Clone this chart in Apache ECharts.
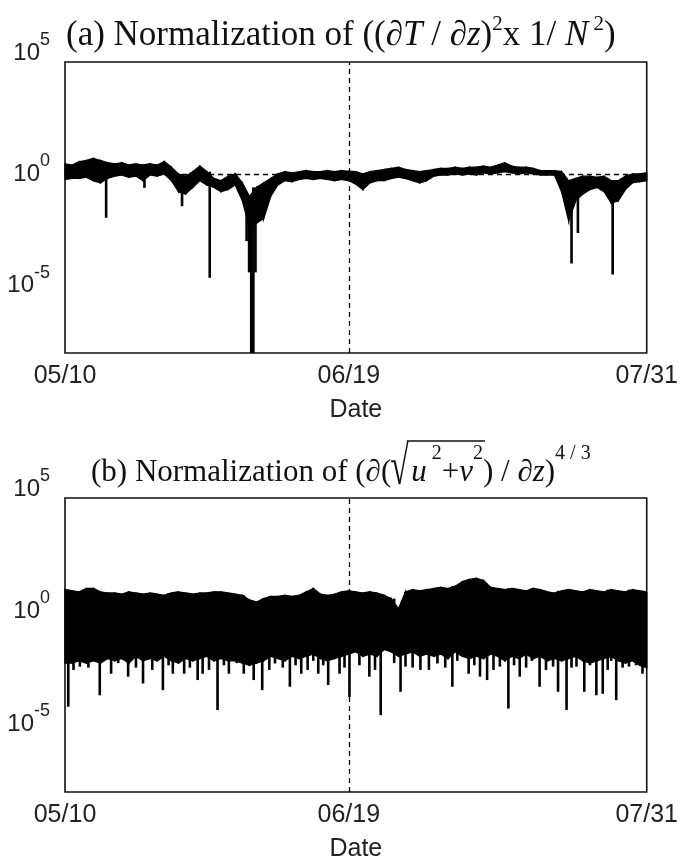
<!DOCTYPE html>
<html>
<head>
<meta charset="utf-8">
<script src="https://cdn.jsdelivr.net/npm/echarts@6/dist/echarts.min.js"></script>
<style>
html,body{margin:0;padding:0;background:#fff;}
#chart{width:681px;height:865px;}
</style>
</head>
<body>
<div id="chart"></div>
<script>
// ---------------- DATA ----------------
// x: days since 05/10 (0..82); tick labels
const xTickDays = [0, 40, 82];
const xTickLabels = ['05/10', '06/19', '07/31'];
// y: log axis ticks
const yTickValues = [1e5, 1, 1e-5];
const yTickLabels = ['5', '0', '-5'];

// Panel (a): daily upper / lower envelope of the normalized (dT/dz)^2 x 1/N^2 trace (day 0..82)
const aUpper = [2.82,2.5,3.55,4,5,4,3.16,2.82,3.16,2.5,2.82,2.5,2.82,2.5,3.55,2,1,0.79,1.26,2.24,
  1.26,0.63,0.5,0.79,1,0.4,0.1,0.25,0.4,0.63,1,1.26,1.12,1.26,1.41,1.26,1.26,1.41,1.26,1.41,
  1.32,1.26,1,1.26,1.41,1.58,1.78,2,1.58,1.41,1.26,1.41,1.58,1.78,1.78,2,1.78,2,2,2.24,
  2,2.5,3.16,2.24,2,2,1.78,1.41,1.41,1.41,1.26,0.5,0.63,0.79,0.79,0.71,0.79,0.5,0.5,0.79,
  1,1,1.12];
const aLower = [0.56,0.63,0.63,0.71,0.5,0.4,0.63,0.79,0.89,0.71,0.79,0.5,0.89,0.79,1,0.5,0.16,0.126,0.25,0.5,
  0.32,0.25,0.16,0.2,0.32,0.063,0.004,0.0063,0.01,0.1,0.32,0.5,0.45,0.56,0.63,0.56,0.63,0.56,0.5,0.56,
  0.5,0.35,0.2,0.4,0.5,0.5,0.63,0.71,0.63,0.5,0.4,0.5,0.79,0.89,0.89,1,0.89,1,0.89,1.12,
  1,1.12,1.26,1.12,1,1.12,1,0.89,0.89,0.89,0.16,0.0079,0.063,0.126,0.2,0.25,0.16,0.05,0.063,0.2,
  0.4,0.45,0.5];
// Panel (a): narrow downward spikes (day, minimum value)
const aSpikeDays = [5.8, 11.2, 16.5, 20.4, 25.6, 25.95, 26.25, 26.55, 26.85, 71.4, 72.3, 77.2];
const aSpikeLows = [0.011, 0.24, 0.036, 2.3e-5, 1e-3, 4e-5, 1e-8, 1e-8, 4e-5, 1e-4, 2.3e-3, 3.2e-5];

// Panel (b): daily upper / lower envelope of the normalized shear^(4/3) trace (day 0..82)
const bUpper = [8.9,7.9,7.1,10,10,7.1,6.3,6.3,5.6,7.1,6.3,5.6,6.3,5.6,5,6.3,7.1,6.3,5.6,6.3,
  6.3,7.1,7.1,6.3,5.6,5,3.16,2.5,3.55,4.5,4.5,5,4.5,5,7.1,10,5.6,5,5.6,7.1,
  7.9,7.1,6.3,7.1,6.3,5,3.55,1.26,7.1,8.9,7.9,8.9,10,11.2,10,12.6,20,25,28,22.4,
  11.2,10,8.9,10,8.9,7.9,10,8.9,7.1,6.3,7.9,8.9,7.9,7.1,8.9,7.9,7.1,8.9,7.9,7.1,
  8.9,7.9,7.1];
const bLower = [5e-3,5e-3,6.3e-3,5e-3,6.3e-3,5e-3,7.9e-3,6.3e-3,7.9e-3,5e-3,1e-2,6.3e-3,7.9e-3,6.3e-3,1e-2,6.3e-3,5e-3,7.9e-3,6.3e-3,7.9e-3,
  1e-2,6.3e-3,7.9e-3,6.3e-3,6.3e-3,5e-3,4e-3,5e-3,6.3e-3,1e-2,7.9e-3,6.3e-3,1e-2,7.9e-3,1e-2,1.26e-2,7.9e-3,6.3e-3,7.9e-3,1e-2,
  1.26e-2,1.58e-2,1e-2,1.26e-2,1e-2,2e-2,1.58e-2,1e-2,1.26e-2,1.58e-2,1e-2,1.26e-2,1e-2,1.26e-2,7.9e-3,1.58e-2,1e-2,7.9e-3,1e-2,7.9e-3,
  1.26e-2,1e-2,6.3e-3,1e-2,7.9e-3,1.26e-2,7.9e-3,1e-2,6.3e-3,7.9e-3,6.3e-3,7.9e-3,1e-2,6.3e-3,5e-3,6.3e-3,7.9e-3,1e-2,6.3e-3,5e-3,
  6.3e-3,4e-3,3.16e-3];
// Panel (b): downward spikes (day, minimum value)
const bSpikeDays = [0.46,1.2,2.1,3.3,4.9,6.5,7.5,8.9,10.0,11.0,12.3,13.8,14.6,15.2,16.8,17.6,18.7,19.4,20.3,21.5,
  22.4,23.1,24.2,25.2,26.6,27.8,28.8,29.6,30.7,31.7,32.5,33.3,34.2,35.0,35.7,36.4,37.1,38.7,39.4,40.1,
  41.5,42.9,43.7,44.5,46.4,47.3,48.0,49.0,50.1,51.3,52.5,53.6,54.6,55.3,56.9,57.7,58.5,59.5,60.4,61.3,
  62.5,63.3,64.1,65.0,65.8,66.9,67.8,68.8,69.5,70.7,71.4,72.1,73.2,74.0,74.9,75.8,76.5,77.0,77.7,78.6,
  79.5,80.5,81.4];
const bSpikeLows = [5.9e-5,2.5e-3,3.5e-3,3.16e-3,1.9e-4,1.7e-3,5e-3,1.26e-3,3.16e-3,6.3e-4,2.5e-3,3.2e-4,4e-3,1.7e-3,1.7e-3,3.16e-3,8.9e-4,1.7e-3,2.5e-3,4.2e-5,
  4e-3,1.7e-3,5e-3,1.7e-3,8.9e-4,3.2e-4,2.5e-3,4.8e-3,3.16e-3,4.5e-4,4e-3,1.7e-3,2.5e-3,6.3e-3,1.7e-3,4e-3,5.4e-4,1.7e-3,3.16e-3,1.6e-4,
  4e-3,1.26e-3,2.5e-3,2.5e-5,5e-3,2.7e-4,3.5e-3,3.16e-3,2.5e-3,2.5e-3,4.8e-3,3.16e-3,4.5e-4,6.3e-3,1.7e-3,4e-3,1.26e-3,8.9e-4,2.5e-3,3.5e-3,
  4.9e-5,4e-3,1.26e-3,3.16e-3,6.3e-3,4.5e-4,2.5e-3,3.5e-3,2.7e-4,4.2e-5,3.16e-3,3.5e-3,2.7e-4,4e-3,1.9e-4,2.2e-4,2.5e-3,6.3e-3,1.15e-4,3.16e-3,
  3.5e-3,4e-3,1.7e-3];

// ---------------- LAYOUT / STYLE ----------------
const W = 681;
const serif = '"Liberation Serif","Times New Roman",serif';
const sans = '"Liberation Sans",Arial,sans-serif';
const ctx = document.createElement('canvas').getContext('2d');

// title (a)
const A_SIZE = 35, A_LH = 42, A_SUP = 21;
const titleAText = '{n|(a) Normalization of ((∂}{i|T}{n| / ∂}{i|z}{n|)}{s|2}{n|x 1/ }{i|N}{s| 2}{n|)}';
// title (b): the radical sign is a separate, narrowed text element placed in the {w} gap
const B_SIZE = 31, B_LH = 44, B_SUP = 20, RAD_GAP = 20;
const titleBText = '{n|(b) Normalization of (∂(}{w| }{i|u}{s| 2}{n|+}{i|v}{s|2}{n|) / ∂}{i|z}{n|)}{s|4 / 3}';

function fontsFor(size, sup) {
  return {n: size + 'px ' + serif, i: 'italic ' + size + 'px ' + serif, s: sup + 'px ' + serif};
}
function richWidth(str, fonts, upto) {
  let w = 0, count = 0;
  str.replace(/\{(\w)\|([^}]*)\}/g, function (m, k, t) {
    if (upto === undefined || count < upto) {
      if (k === 'w') w += RAD_GAP; else { ctx.font = fonts[k]; w += ctx.measureText(t).width; }
    }
    count++;
    return m;
  });
  return w;
}
const fA = fontsFor(A_SIZE, A_SUP), fB = fontsFor(B_SIZE, B_SUP);
const leftA = Math.round((W - richWidth(titleAText, fA)) / 2);
const leftB = Math.round((W - richWidth(titleBText, fB)) / 2);
const topA = 11, topB = 444;

// radical glyph: from just under the bar down to the text baseline
const RAD_SIZE = 54, RAD_SX = 0.62, RAD_TOP = 441;
ctx.font = RAD_SIZE + 'px ' + serif; ctx.textBaseline = 'middle';
const rm = ctx.measureText('√');
const radAsc = rm.actualBoundingBoxAscent || RAD_SIZE * 0.5;
const radRight = rm.actualBoundingBoxRight || RAD_SIZE * 0.55;
const radX = leftB + richWidth(titleBText, fB, 1) - 1;
const radY = RAD_TOP + radAsc;
const barY = RAD_TOP;
const barX1 = radX + radRight * RAD_SX - 2;
const barX2 = leftB + richWidth(titleBText, fB, 7) + 2;

function titleRich(size, lh, sup, supPad) {
  const base = {fontFamily: serif, fontWeight: 'normal', color: '#111'};
  return {
    n: Object.assign({fontSize: size, lineHeight: lh, verticalAlign: 'bottom'}, base),
    i: Object.assign({fontSize: size, lineHeight: lh, verticalAlign: 'bottom', fontStyle: 'italic'}, base),
    s: Object.assign({fontSize: sup, lineHeight: sup, verticalAlign: 'top', padding: [supPad, 0, 0, 0]}, base),
    w: Object.assign({fontSize: size, lineHeight: lh, verticalAlign: 'bottom', width: RAD_GAP}, base)
  };
}

const grids = [
  {left: 65, right: 30, top: 62, height: 291},
  {left: 65, right: 30, top: 498, height: 294}
];

function bandItem(upper, lower) {
  return function (params, api) {
    const i = params.dataIndex;
    if (i >= upper.length - 1) return null;
    const p1 = api.coord([i, upper[i]]);
    const p2 = api.coord([i + 1, upper[i + 1]]);
    const p3 = api.coord([i + 1, lower[i + 1]]);
    const p4 = api.coord([i, lower[i]]);
    return {type: 'polygon', shape: {points: [p1, p2, p3, p4]},
      style: {fill: '#000', stroke: '#000', lineWidth: 1.3}};
  };
}
function spikeItem(upper) {
  return function (params, api) {
    const d = api.value(0), low = api.value(1);
    const k = Math.min(upper.length - 1, Math.round(d));
    const top = api.coord([d, upper[k]]);
    const bot = api.coord([d, low]);
    return {type: 'line', shape: {x1: top[0], y1: top[1], x2: bot[0], y2: bot[1]},
      style: {stroke: '#000', lineWidth: 2.6}};
  };
}

const xAxes = [], yAxes = [], series = [];
const panels = [
  {upper: aUpper, lower: aLower, sDays: aSpikeDays, sLows: aSpikeLows},
  {upper: bUpper, lower: bLower, sDays: bSpikeDays, sLows: bSpikeLows}
];
panels.forEach(function (p, g) {
  xAxes.push({
    gridIndex: g, type: 'value', min: xTickDays[0], max: xTickDays[xTickDays.length - 1],
    axisLine: {show: false}, axisTick: {show: false}, splitLine: {show: false},
    axisLabel: {customValues: xTickDays, margin: 11, fontSize: 25, fontFamily: sans, color: '#222',
      formatter: function (v) { const k = xTickDays.indexOf(v); return k >= 0 ? xTickLabels[k] : ''; }},
    name: 'Date', nameLocation: 'middle', nameGap: 45,
    nameTextStyle: {fontSize: 25, fontFamily: sans, color: '#222'}
  });
  yAxes.push({
    gridIndex: g, type: 'log', logBase: 10, min: 1e-8, max: 1e5,
    axisLine: {show: false}, axisTick: {show: false}, splitLine: {show: false}, minorSplitLine: {show: false},
    axisLabel: {customValues: yTickValues, margin: 15, padding: [0, 0, 10, 0],
      formatter: function (v) {
        let k = -1;
        yTickValues.forEach(function (t, j) { if (Math.abs(Math.log10(v) - Math.log10(t)) < 1e-6) k = j; });
        if (k < 0) return '';
        return '{b|10}{s|' + yTickLabels[k] + '}' + (k === 0 ? '\n{g| }' : '');
      },
      rich: {
        b: {fontSize: 24, lineHeight: 34, fontFamily: sans, color: '#222', verticalAlign: 'bottom'},
        s: {fontSize: 18, lineHeight: 14, fontFamily: sans, color: '#222', verticalAlign: 'top'},
        g: {fontSize: 2, lineHeight: 18}
      }
    }
  });
  // dashed grid lines at interior ticks
  const ml = [];
  yTickValues.slice(1).forEach(function (v) { ml.push({yAxis: v}); });
  xTickDays.slice(1, -1).forEach(function (v) { ml.push({xAxis: v}); });
  series.push({
    type: 'line', xAxisIndex: g, yAxisIndex: g, data: [[0, 1]], showSymbol: false, silent: true,
    lineStyle: {opacity: 0}, z: 1,
    markLine: {silent: true, symbol: ['none', 'none'], label: {show: false}, animation: false,
      lineStyle: {color: '#000', type: [5, 4], width: 1.3}, data: ml}
  });
  series.push({
    type: 'custom', xAxisIndex: g, yAxisIndex: g, z: 3, silent: true,
    data: p.upper.map(function (u, i) { return [i, u, p.lower[i]]; }),
    encode: {x: 0, y: [1, 2]},
    renderItem: bandItem(p.upper, p.lower)
  });
  series.push({
    type: 'custom', xAxisIndex: g, yAxisIndex: g, z: 4, silent: true,
    data: p.sDays.map(function (d, i) { return [d, p.sLows[i]]; }),
    encode: {x: 0, y: 1},
    renderItem: spikeItem(p.upper)
  });
});

const chart = echarts.init(document.getElementById('chart'), null, {renderer: 'canvas'});
chart.setOption({
  animation: false,
  backgroundColor: '#fff',
  title: [
    {text: titleAText, left: leftA, top: topA, padding: 0, textStyle: {fontWeight: 'normal', rich: titleRich(A_SIZE, A_LH, A_SUP, 3)}},
    {text: titleBText, left: leftB, top: topB, padding: 0, textStyle: {fontWeight: 'normal', rich: titleRich(B_SIZE, B_LH, B_SUP, 0)}}
  ],
  grid: grids.map(function (g) { return Object.assign({show: true, borderColor: '#111', borderWidth: 1.6, backgroundColor: 'transparent'}, g); }),
  xAxis: xAxes,
  yAxis: yAxes,
  series: series,
  graphic: {
    elements: [
      {type: 'text', id: 'radical', x: radX, y: radY, scaleX: RAD_SX, silent: true, z: 100,
        style: {text: '√', x: 0, y: 0, font: RAD_SIZE + 'px ' + serif, fill: '#111', align: 'left', verticalAlign: 'middle'}},
      {type: 'rect', id: 'radicalBar', silent: true, z: 100,
        shape: {x: barX1, y: barY - 0.8, width: Math.max(0, barX2 - barX1), height: 1.6},
        style: {fill: '#111'}}
    ]
  }
});
</script>
</body>
</html>
